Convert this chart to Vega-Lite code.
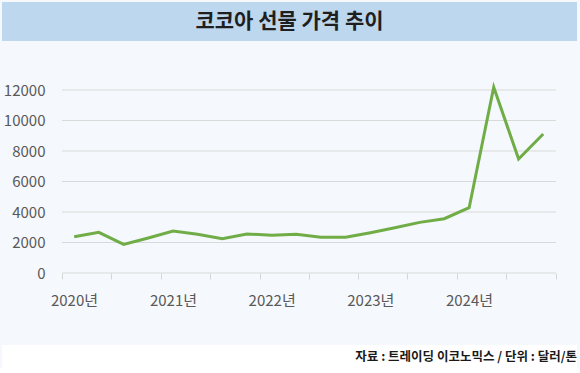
{
  "$schema": "https://vega.github.io/schema/vega-lite/v6.json",
  "background": "#F5F8FC",
  "padding": {"left": 2, "top": 2, "right": 3, "bottom": 0},
  "spacing": 37,
  "config": {
    "font": "Noto Sans CJK KR",
    "view": {"stroke": null},
    "axisY": {"labelOverlap": false},
    "axis": {"labelOverlap": false}
  },
  "datasets": {
    "가격표": [
      {"날짜": "2020-02-15", "가격": 2380},
      {"날짜": "2020-05-16", "가격": 2670},
      {"날짜": "2020-08-16", "가격": 1880},
      {"날짜": "2020-11-15", "가격": 2295},
      {"날짜": "2021-02-15", "가격": 2750},
      {"날짜": "2021-05-16", "가격": 2540},
      {"날짜": "2021-08-16", "가격": 2250},
      {"날짜": "2021-11-15", "가격": 2560},
      {"날짜": "2022-02-15", "가격": 2470},
      {"날짜": "2022-05-16", "가격": 2540},
      {"날짜": "2022-08-16", "가격": 2340},
      {"날짜": "2022-11-15", "가격": 2340},
      {"날짜": "2023-02-15", "가격": 2640},
      {"날짜": "2023-05-16", "가격": 2970},
      {"날짜": "2023-08-16", "가격": 3320},
      {"날짜": "2023-11-15", "가격": 3560},
      {"날짜": "2024-02-15", "가격": 4280},
      {"날짜": "2024-05-16", "가격": 12180},
      {"날짜": "2024-08-16", "가격": 7475},
      {"날짜": "2024-11-15", "가격": 9115}
    ],
    "눈금": [
      {"값": 0}, {"값": 2000}, {"값": 4000}, {"값": 6000}, {"값": 8000}, {"값": 10000}, {"값": 12000}
    ]
  },
  "vconcat": [
    {
      "bounds": "flush",
      "spacing": 49,
      "vconcat": [
        {
          "width": 575,
          "height": 39,
          "view": {"fill": "#BDD7EE", "stroke": null},
          "data": {"values": [{"제목": "코코아 선물 가격 추이"}]},
          "mark": {"type": "text", "fontSize": 21, "fontWeight": "bold", "color": "#1f1f1f", "align": "center", "baseline": "middle"},
          "encoding": {"text": {"field": "제목", "type": "nominal"}}
        },
        {
          "width": 575,
          "height": 183,
          "layer": [
            {
              "data": {"name": "눈금"},
              "mark": {"type": "rule", "color": "#d9d9d9", "strokeWidth": 1},
              "encoding": {
                "x": {"datum": {"year": 2020, "month": 1, "date": 1, "utc": true}, "type": "temporal"},
                "x2": {"datum": {"year": 2025, "month": 1, "date": 1, "utc": true}},
                "y": {
                  "field": "값",
                  "type": "quantitative",
                  "axis": {
                    "title": null,
                    "values": [0, 2000, 4000, 6000, 8000, 10000, 12000],
                    "ticks": false,
                    "domain": false,
                    "grid": false,
                    "labelOverlap": false,
                    "labelFontSize": 15,
                    "labelColor": "#595959",
                    "labelPadding": -43,
                    "labelAlign": "right",
                    "format": "d"
                  }
                }
              }
            },
            {
              "data": {"name": "가격표"},
              "mark": {"type": "line", "color": "#70AD47", "strokeWidth": 3},
              "encoding": {
                "x": {
                  "field": "날짜",
                  "type": "temporal",
                  "scale": {
                    "type": "utc",
                    "domain": [
                      {"year": 2019, "month": 5, "date": 24, "utc": true},
                      {"year": 2025, "month": 3, "date": 20, "utc": true}
                    ],
                    "nice": false
                  },
                  "axis": {
                    "title": null,
                    "domain": false,
                    "grid": false,
                    "tickSize": 6,
                    "tickColor": "#d6d6d6",
                    "values": [
                      {"year": 2020, "month": 1, "date": 1, "utc": true},
                      {"year": 2020, "month": 4, "date": 1, "utc": true},
                      {"year": 2020, "month": 7, "date": 1, "utc": true},
                      {"year": 2020, "month": 10, "date": 1, "utc": true},
                      {"year": 2021, "month": 1, "date": 1, "utc": true},
                      {"year": 2021, "month": 4, "date": 1, "utc": true},
                      {"year": 2021, "month": 7, "date": 1, "utc": true},
                      {"year": 2021, "month": 10, "date": 1, "utc": true},
                      {"year": 2022, "month": 1, "date": 1, "utc": true},
                      {"year": 2022, "month": 4, "date": 1, "utc": true},
                      {"year": 2022, "month": 7, "date": 1, "utc": true},
                      {"year": 2022, "month": 10, "date": 1, "utc": true},
                      {"year": 2023, "month": 1, "date": 1, "utc": true},
                      {"year": 2023, "month": 4, "date": 1, "utc": true},
                      {"year": 2023, "month": 7, "date": 1, "utc": true},
                      {"year": 2023, "month": 10, "date": 1, "utc": true},
                      {"year": 2024, "month": 1, "date": 1, "utc": true},
                      {"year": 2024, "month": 4, "date": 1, "utc": true},
                      {"year": 2024, "month": 7, "date": 1, "utc": true},
                      {"year": 2024, "month": 10, "date": 1, "utc": true},
                      {"year": 2025, "month": 1, "date": 1, "utc": true}
                    ],
                    "labelExpr": "utcmonth(datum.value) == 0 && utcyear(datum.value) < 2025 ? utcyear(datum.value) + '년' : ''",
                    "labelOffset": 12,
                    "labelFlush": false,
                    "labelOverlap": false,
                    "labelAngle": 0,
                    "labelFontSize": 15,
                    "labelColor": "#595959",
                    "labelPadding": 14
                  }
                },
                "y": {
                  "field": "가격",
                  "type": "quantitative",
                  "scale": {"domain": [0, 12000], "nice": false, "zero": true},
                  "axis": {
                    "title": null,
                    "values": [0, 2000, 4000, 6000, 8000, 10000, 12000],
                    "ticks": false,
                    "domain": false,
                    "grid": false,
                    "labelOverlap": false,
                    "labelFontSize": 15,
                    "labelColor": "#595959",
                    "labelPadding": -43,
                    "labelAlign": "right",
                    "format": "d"
                  }
                }
              }
            }
          ]
        }
      ]
    },
    {
      "width": 575,
      "height": 23,
      "view": {"fill": "#ffffff", "stroke": null},
      "data": {"values": [{"출처": "자료 : 트레이딩 이코노믹스 / 단위 : 달러/톤"}]},
      "mark": {"type": "text", "fontSize": 12.5, "fontWeight": "bold", "color": "#1a1a1a", "align": "right", "baseline": "middle"},
      "encoding": {
        "text": {"field": "출처", "type": "nominal"},
        "x": {"value": "width"}
      }
    }
  ]
}
